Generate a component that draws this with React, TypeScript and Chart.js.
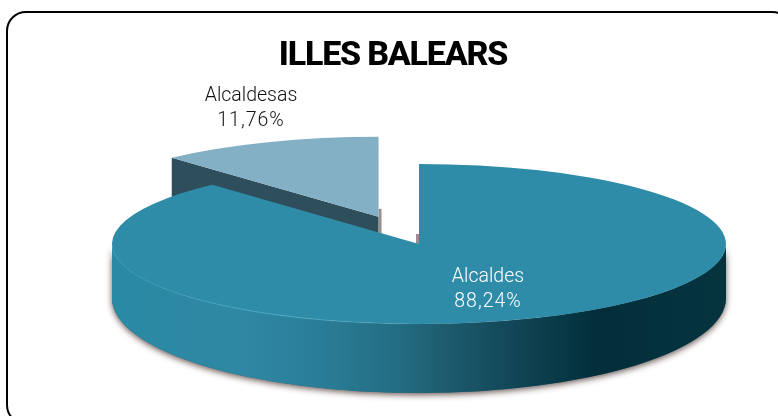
import React, { useEffect, useRef } from "react";
import { Chart, registerables } from "chart.js";

Chart.register(...registerables);

const categories = ["Alcaldes", "Alcaldesas"];
const shares = [88.24, 11.76];
const shareLabels = ["88,24%", "11,76%"];
const sliceColors = ["#2f8ca8", "#83b0c5"];
const titleText = "ILLES BALEARS";

// projection of the flat pie to the tilted view
const CX = 419, CY = 244, RX = 307, RY = 80;
const EDGE_DEPTH = 54, FRONT_RY = 95;
const PULL_OUT = [0, 0.365]; // share of the radius each slice is pulled out
const labelSpots = [
  { x: 488, y: 277, color: "#ffffff" },
  { x: 251, y: 96, color: "#111111" },
];

const tilt3d = {
  id: "tilt3d",
  beforeDraw(chart: any) {
    chart.ctx.letterSpacing = "-1.2px";
  },
  beforeDatasetsDraw(chart: any) {
    const ctx = chart.ctx;
    ctx.letterSpacing = "0px";
    const arcs = chart.getDatasetMeta(0).data;
    const r = arcs[0].outerRadius;
    const kx = RX / r, ky = RY / r;
    const proj = (arc: any, px: number, py: number) => ({
      x: CX + (px - arc.x) * kx,
      y: CY + (py - arc.y) * ky,
    });

    // wall of the pulled-out slice
    const s = arcs[1];
    const mid = (s.startAngle + s.endAngle) / 2;
    const off = PULL_OUT[1] * r;
    const ox = s.x + Math.cos(mid) * off, oy = s.y + Math.sin(mid) * off;
    const A = proj(s, ox, oy);
    const L = proj(s, ox + Math.cos(s.startAngle) * r, oy + Math.sin(s.startAngle) * r);
    ctx.save();
    ctx.fillStyle = "#2f4e5c";
    ctx.beginPath();
    ctx.moveTo(L.x, L.y);
    ctx.lineTo(A.x, A.y);
    ctx.lineTo(A.x, A.y + EDGE_DEPTH);
    ctx.lineTo(L.x, L.y + EDGE_DEPTH);
    ctx.closePath();
    ctx.fill();
    // thin shadows in the gap
    ctx.fillStyle = "#9a8f8c";
    ctx.fillRect(A.x, A.y - 8, 3, 26);
    ctx.fillRect(CX - 3, CY - 10, 4, 10);
    ctx.restore();

    // wall of the large slice
    const wall = () => {
      ctx.beginPath();
      ctx.ellipse(CX, CY, RX, RY, 0, 0, Math.PI);
      ctx.ellipse(CX, CY + EDGE_DEPTH, RX, FRONT_RY, 0, Math.PI, 0, true);
      ctx.closePath();
    };
    ctx.save();
    ctx.shadowColor = "rgba(80,60,55,0.85)";
    ctx.shadowBlur = 6;
    ctx.shadowOffsetY = 2;
    ctx.fillStyle = "#2b6a80";
    wall();
    ctx.fill();
    ctx.restore();

    const g = ctx.createLinearGradient(CX - RX, 0, CX + RX, 0);
    g.addColorStop(0, "#2a8aa5");
    g.addColorStop(0.22, "#2f87a3");
    g.addColorStop(0.34, "#2a7d97");
    g.addColorStop(0.47, "#236c82");
    g.addColorStop(0.53, "#1f5e71");
    g.addColorStop(0.66, "#114555");
    g.addColorStop(0.79, "#022e3a");
    g.addColorStop(1, "#05343f");
    ctx.fillStyle = g;
    wall();
    ctx.fill();
  },
  beforeDatasetDraw(chart: any) {
    const ctx = chart.ctx;
    const arcs = chart.getDatasetMeta(0).data;
    const r = arcs[0].outerRadius;
    arcs.forEach((arc: any, i: number) => {
      const mid = (arc.startAngle + arc.endAngle) / 2;
      ctx.save();
      ctx.translate(CX, CY);
      ctx.scale(RX / r, RY / r);
      ctx.translate(-arc.x + Math.cos(mid) * PULL_OUT[i] * r, -arc.y + Math.sin(mid) * PULL_OUT[i] * r);
      arc.draw(ctx);
      ctx.restore();
    });
    return false;
  },
  afterDatasetsDraw(chart: any) {
    const ctx = chart.ctx;
    const hl = ctx.createLinearGradient(CX - RX, 0, CX + 40, 0);
    hl.addColorStop(0, "rgba(80,175,200,0.3)");
    hl.addColorStop(0.5, "rgba(90,185,210,0.7)");
    hl.addColorStop(1, "rgba(90,185,210,0)");
    ctx.save();
    ctx.strokeStyle = hl;
    ctx.lineWidth = 1;
    ctx.beginPath();
    ctx.ellipse(CX, CY, RX, RY, 0, Math.PI * 0.5, Math.PI);
    ctx.stroke();
    ctx.font = '300 19.5px "Roboto"';
    ctx.textAlign = "center";
    ctx.textBaseline = "middle";
    categories.forEach((c, i) => {
      ctx.fillStyle = labelSpots[i].color;
      ctx.letterSpacing = "0px";
      ctx.fillText(c, labelSpots[i].x, labelSpots[i].y);
      ctx.letterSpacing = "1px";
      ctx.fillText(shareLabels[i], labelSpots[i].x, labelSpots[i].y + 25);
    });
    ctx.letterSpacing = "0px";
    ctx.restore();
  },
};

export default function App() {
  const ref = useRef<HTMLCanvasElement>(null);
  useEffect(() => {
    const chart = new Chart(ref.current!, {
      type: "pie",
      data: {
        labels: categories,
        datasets: [
          {
            data: shares,
            backgroundColor: sliceColors,
            borderWidth: 0,
          } as any,
        ],
      },
      options: {
        responsive: false,
        animation: false,
        layout: { padding: { left: 8 } },
        plugins: {
          legend: { display: false },
          tooltip: { enabled: false },
          title: {
            display: true,
            text: titleText,
            color: "#000000",
            font: { family: "Roboto", weight: "800", size: 34 },
            padding: { top: 36, bottom: 10 },
          },
        },
      },
      plugins: [tilt3d],
    } as any);
    return () => chart.destroy();
  }, []);
  return (
    <div style={{ position: "fixed", left: 0, top: 0, width: 778, height: 416, background: "#fff", overflow: "hidden" }}>
      <canvas ref={ref} width={778} height={416} style={{ position: "absolute", left: 0, top: 0 }} />
      <div
        style={{
          position: "absolute",
          left: 6,
          top: 11,
          width: 782,
          height: 410,
          border: "2px solid #000",
          borderRadius: 20,
        }}
      />
    </div>
  );
}
